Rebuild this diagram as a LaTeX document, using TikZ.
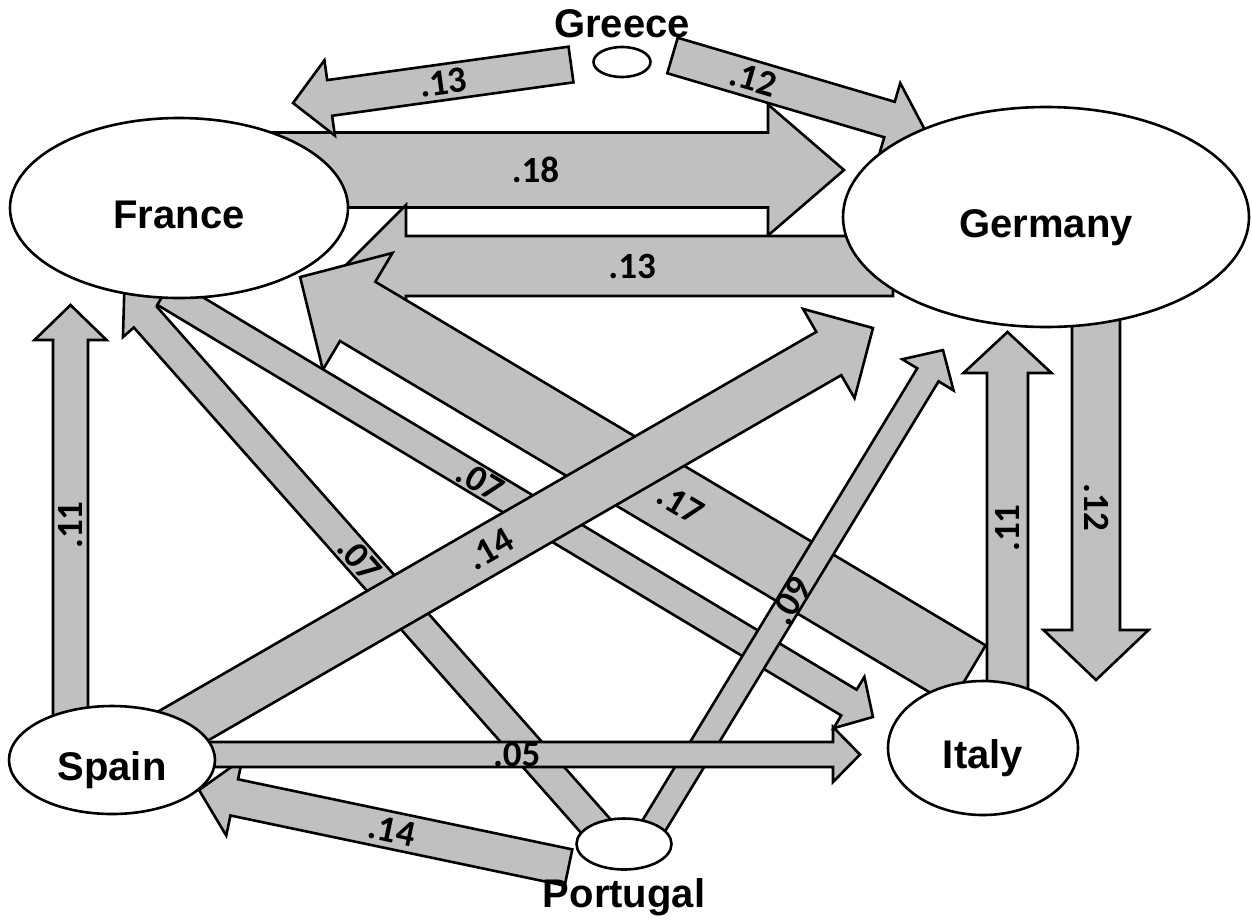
\documentclass[tikz,border=0pt]{standalone}
\usepackage{fontspec}
\setmainfont{Liberation Sans}
\newfontfamily\numfamily{Carlito}
\usetikzlibrary{shapes.geometric}
\usetikzlibrary{positioning}
\definecolor{flowgray}{rgb}{0.753, 0.753, 0.753}

\newcommand\namefont{\fontsize{40}{40}\selectfont\bfseries}
\newcommand\numfont{\numfamily\fontsize{37}{37}\selectfont\bfseries}

% block arrow: tail, tip, shaft width, head width, head length, label pos, label
\newcommand\flow[7]{%
  \pgfpointdiff{\pgfpointanchor{#1}{center}}{\pgfpointanchor{#2}{center}}%
  \pgfgetlastxy\flowdx\flowdy
  \pgfmathsetmacro\flowang{atan2(\flowdy,\flowdx)}%
  \pgfmathsetmacro\flowlen{veclen(\flowdx,\flowdy)}%
  \begin{scope}[shift={(#1)}, rotate=\flowang]
    \draw[flowbody] (0,-#3/2) -- ({\flowlen-#5},-#3/2) -- ({\flowlen-#5},-#4/2)
      -- (\flowlen,0) -- ({\flowlen-#5},#4/2) -- ({\flowlen-#5},#3/2) -- (0,#3/2) -- cycle;
  \end{scope}
  \path (#1) -- node[flowlabel, pos=#6, sloped] {#7} (#2);
}

\tikzset{
  flowbody/.style={draw=black, fill=flowgray, line width=2.6pt},
  flowlabel/.style={font=\numfont, inner sep=0pt},
  country/.style={ellipse, draw=black, fill=white, line width=2.6pt, font=\namefont,
    inner sep=0pt, text height=40pt, text depth=0pt},
  hub/.style={ellipse, draw=black, fill=white, line width=2.6pt, inner sep=0pt},
  hubname/.style={font=\namefont, inner sep=0pt}
}

\begin{document}
\begin{tikzpicture}[x=1pt, y=1pt]
\useasboundingbox (0,0) rectangle (1252,-922);

% ends of the flows
\coordinate (frge1) at (262,-170);    \coordinate (frge2) at (844,-170);
\coordinate (grfr1) at (571,-64.5);   \coordinate (grfr2) at (293,-103);
\coordinate (grge1) at (672.5,-55.5); \coordinate (grge2) at (925,-130);
\coordinate (gefr1) at (893,-266);    \coordinate (gefr2) at (345,-266);
\coordinate (geit1) at (1096,-300);   \coordinate (geit2) at (1096,-680);
\coordinate (spfr1) at (70.5,-720);   \coordinate (spfr2) at (70.5,-305);
\coordinate (pofr1) at (605,-836.5);  \coordinate (pofr2) at (124,-293);
\coordinate (itfr1) at (968,-675);    \coordinate (itfr2) at (300,-277);
\coordinate (frit1) at (165,-292);    \coordinate (frit2) at (873,-717);
\coordinate (poge1) at (650,-832);    \coordinate (poge2) at (943,-350);
\coordinate (spge1) at (164,-737);    \coordinate (spge2) at (873,-328);
\coordinate (itge1) at (1007.5,-700); \coordinate (itge2) at (1007.5,-332);
\coordinate (posp1) at (568.5,-867.5);\coordinate (posp2) at (199,-790);
\coordinate (spit1) at (200,-754.5);  \coordinate (spit2) at (860,-754.5);

% flows, back to front
\flow{frge1}{frge2}{75}{131}{76}{0.47}{.18}
\flow{grfr1}{grfr2}{36}{76}{37}{0.46}{.13}
\flow{grge1}{grge2}{37}{76}{37}{0.32}{.12}
\flow{gefr1}{gefr2}{60}{122}{61}{0.476}{.13}
\flow{geit1}{geit2}{48}{105}{50}{0.545}{.12}
\flow{spfr1}{spfr2}{35}{72}{35}{0.47}{.11}
\flow{pofr1}{pofr2}{31}{60}{32}{0.51}{.07}
\flow{itfr1}{itfr2}{69}{136}{67}{0.43}{.17}
\flow{frit1}{frit2}{30}{60}{28}{0.445}{.07}
\flow{poge1}{poge2}{25}{60}{29}{0.48}{.09}
\flow{spge1}{spge2}{50}{103}{51}{0.46}{.14}
\flow{itge1}{itge2}{41}{88}{41}{0.467}{.11}
\flow{posp1}{posp2}{37}{78}{36}{0.478}{.14}
\flow{spit1}{spit2}{25}{55}{27}{0.48}{.05}

% countries
\node[country, minimum width=338, minimum height=180] (france) at (179,-208) {France};
\node[country, minimum width=406, minimum height=220] (germany) at (1046,-217) {Germany};
\node[country, minimum width=206, minimum height=108] (spain) at (112,-760) {Spain};
\node[country, minimum width=190, minimum height=134] (italy) at (983,-748) {Italy};
\node[hub, minimum width=57, minimum height=30] (greece) at (622,-62) {};
\node[hubname, above=8pt of greece] (greecename) {Greece};
\node[hub, minimum width=95, minimum height=51] (portugal) at (624,-844) {};
\node[hubname, below=7pt of portugal] (portugalname) {Portugal};
\end{tikzpicture}
\end{document}
